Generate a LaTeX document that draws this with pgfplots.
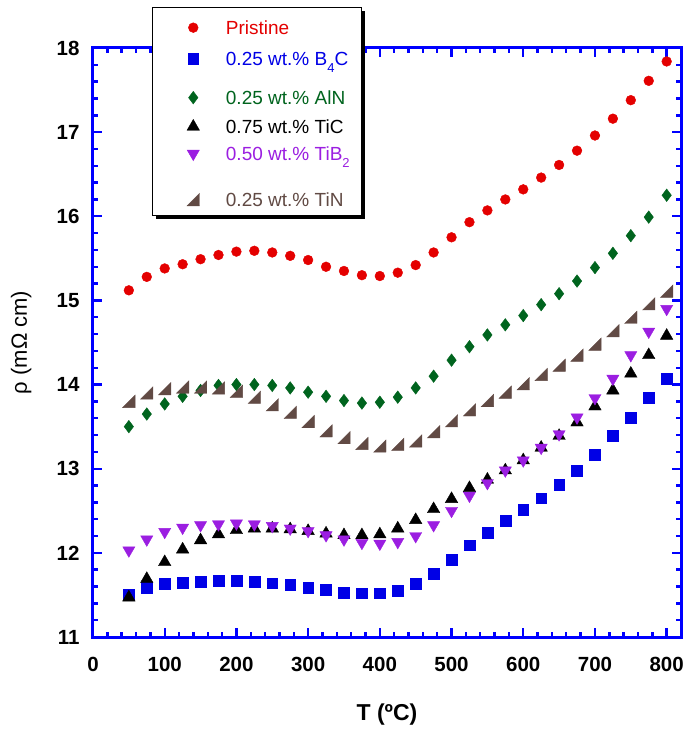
\documentclass[border=0pt]{standalone}
\usepackage{fontspec}
\setmainfont{Liberation Sans}
\usepackage{pgfplots}
\pgfplotsset{compat=1.18}
\usepackage{pgfplotstable}
\usetikzlibrary{shadows}

\definecolor{cred}{RGB}{228,0,0}
\definecolor{cblue}{RGB}{0,0,230}
\definecolor{cframe}{RGB}{0,0,255}
\definecolor{cgreen}{RGB}{0,100,30}
\definecolor{cpurple}{RGB}{155,30,225}
\definecolor{cbrown}{RGB}{97,74,68}

\pgfdeclareplotmark{lrtri}{%
  \pgfpathmoveto{\pgfqpoint{-\pgfplotmarksize}{-\pgfplotmarksize}}%
  \pgfpathlineto{\pgfqpoint{\pgfplotmarksize}{-\pgfplotmarksize}}%
  \pgfpathlineto{\pgfqpoint{\pgfplotmarksize}{\pgfplotmarksize}}%
  \pgfpathclose
  \pgfusepathqfillstroke}

\pgfplotstableread{
x    pristine b4c   aln   tic   tib   tin
50   15.12  11.50  13.50  11.47  12.03  13.80
75   15.28  11.59  13.65  11.69  12.16  13.90
100  15.38  11.63  13.77  11.89  12.25  13.95
125  15.43  11.65  13.86  12.04  12.30  13.97
150  15.49  11.66  13.93  12.15  12.33  13.97
175  15.54  11.67  13.99  12.22  12.34  13.96
200  15.58  11.67  14.00  12.27  12.35  13.92
225  15.59  11.66  14.00  12.29  12.34  13.85
250  15.57  11.64  13.99  12.29  12.32  13.76
275  15.53  11.62  13.96  12.28  12.29  13.67
300  15.48  11.59  13.91  12.26  12.26  13.56
325  15.40  11.56  13.86  12.23  12.21  13.45
350  15.35  11.53  13.81  12.21  12.16  13.37
375  15.30  11.52  13.78  12.21  12.12  13.30
400  15.29  11.52  13.79  12.22  12.11  13.27
425  15.33  11.55  13.85  12.29  12.13  13.29
450  15.42  11.63  13.96  12.39  12.20  13.33
475  15.57  11.75  14.10  12.52  12.33  13.44
500  15.75  11.92  14.29  12.64  12.50  13.57
525  15.93  12.09  14.45  12.77  12.68  13.70
550  16.07  12.24  14.59  12.87  12.83  13.81
575  16.20  12.38  14.71  12.98  12.98  13.91
600  16.32  12.51  14.82  13.10  13.10  14.01
625  16.46  12.65  14.95  13.25  13.25  14.12
650  16.61  12.81  15.08  13.39  13.41  14.23
675  16.78  12.98  15.23  13.55  13.61  14.35
700  16.96  13.17  15.39  13.74  13.84  14.48
725  17.16  13.39  15.56  13.93  14.07  14.64
750  17.38  13.61  15.77  14.13  14.35  14.80
775  17.61  13.84  15.99  14.35  14.63  14.96
800  17.84  14.07  16.25  14.58  14.90  15.11
}\datatable

% legend text with fixed height (#1) and depth (#2)
\newcommand{\lt}[3]{\raisebox{0pt}[#1pt][#2pt]{#3}}
\newcommand{\sub}[1]{\raisebox{-7pt}{\fontsize{13}{13}\selectfont #1}}

\begin{document}
\begin{tikzpicture}
\begin{axis}[
  name=ax,
  scale only axis,
  width=588pt, height=589pt,
  xmin=0, xmax=820, ymin=11, ymax=18,
  xtick={0,100,...,800}, ytick={11,12,...,18},
  minor x tick num=4, minor y tick num=4,
  axis line style={line width=3pt, color=cframe},
  tick style={line width=2.4pt, color=cframe},
  major tick length=9pt, minor tick length=5pt,
  tick align=inside,
  /pgf/number format/assume math mode=true,
  ticklabel style={font=\fontsize{20.5}{24}\selectfont\bfseries},
  xticklabel style={yshift=-17pt},
  yticklabel style={xshift=-10pt},
  xlabel={\bfseries T (ºC)},
  ylabel={ρ (mΩ cm)},
  xlabel style={font=\fontsize{23}{27}\selectfont, at={(axis description cs:0.5,-0.131)}, anchor=center},
  ylabel style={font=\fontsize{22}{26}\selectfont, at={(axis description cs:-0.122,0.5)}, anchor=center},
  clip=false,
  legend style={
    at={(axis description cs:0.1003,1.0696)}, anchor=north west,
    draw=black, line width=1.3pt, fill=white,
    font=\fontsize{19}{23}\selectfont,
    inner xsep=10pt, inner ysep=0pt,
    row sep=0pt,
    nodes={inner ysep=0pt, text depth={}, text height={}},
    cells={anchor=base west},
    general shadow={fill=black, shadow xshift=3.5pt, shadow yshift=-3.5pt},
  },
  legend image code/.code={%
    \draw[#1,line width=0.4pt] plot coordinates {(30pt,7pt)};
    \path (0pt,0pt) (60pt,0pt);},
]
\addplot[only marks, mark=*, mark size=4.9pt, color=cred] table[x=x,y=pristine]{\datatable};
\addlegendentry{\lt{27}{14}{\textcolor{cred}{Pristine}}}
\addplot[only marks, mark=square*, mark size=5.4pt, color=cblue] table[x=x,y=b4c]{\datatable};
\addlegendentry{\lt{17}{22}{\textcolor{cblue}{0.25 wt.\% B\sub{4}C}}}
\addplot[only marks, mark=diamond*, mark size=6.3pt, color=cgreen] table[x=x,y=aln]{\datatable};
\addlegendentry{\lt{17}{14}{\textcolor{cgreen}{0.25 wt.\% AlN}}}
\addplot[only marks, mark=triangle*, mark size=7.2pt, color=black] table[x=x,y=tic]{\datatable};
\addlegendentry{\lt{15}{13}{\textcolor{black}{0.75 wt.\% TiC}}}
\addplot[only marks, mark=triangle*, mark options={rotate=180}, mark size=7pt, color=cpurple] table[x=x,y=tib]{\datatable};
\addlegendentry{\lt{14}{30}{\textcolor{cpurple}{0.50 wt.\% TiB\sub{2}}}}
\addplot[only marks, mark=lrtri, mark size=6.2pt, color=cbrown] table[x=x,y=tin]{\datatable};
\addlegendentry{\lt{16}{9}{\textcolor{cbrown}{0.25 wt.\% TiN}}}
\end{axis}
\path ([xshift=-93pt,yshift=-95pt]ax.south west) rectangle ([xshift=4pt,yshift=48pt]ax.north east);
\end{tikzpicture}
\end{document}
